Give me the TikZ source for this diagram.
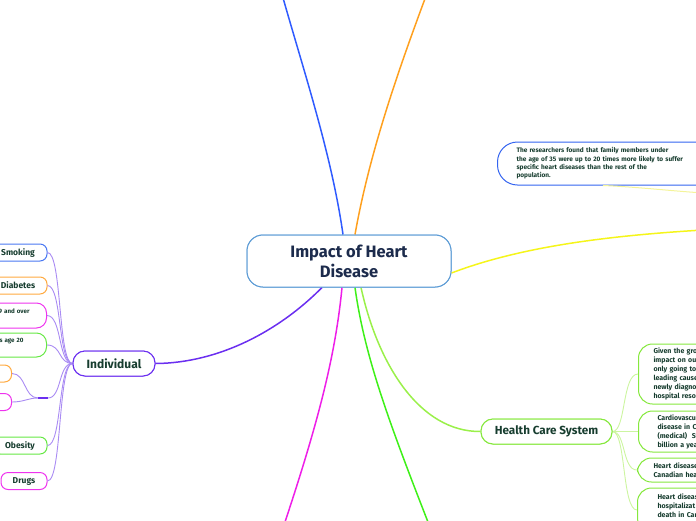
\documentclass[tikz,border=0pt]{standalone}
\usepackage{fontspec}
\setmainfont{Fira Sans}
\definecolor{titletxt}{HTML}{1C2B4C}
\definecolor{txt}{HTML}{173D2F}
\definecolor{rootborder}{HTML}{5B9BD5}
\definecolor{cblue}{HTML}{2F5BFF}
\definecolor{corange}{HTML}{FFA01E}
\definecolor{cyellow}{HTML}{F5F51A}
\definecolor{cpurple}{HTML}{6B2FF0}
\definecolor{cmagenta}{HTML}{EE1EE8}
\definecolor{cgreen}{HTML}{3EF018}
\definecolor{clime}{HTML}{9AF04A}
\definecolor{hcsborder}{HTML}{86E83E}
\definecolor{lpurple}{HTML}{A98BF3}
\definecolor{llime}{HTML}{CCF5A0}
\definecolor{pyellow}{HTML}{F4F49A}
\definecolor{resborder}{HTML}{3464F0}
\definecolor{lblue}{HTML}{4A78F2}
\definecolor{lorange}{HTML}{FFAA40}
\definecolor{lmag}{HTML}{EE33EE}
\definecolor{lgreen}{HTML}{66E844}
\begin{document}
\begin{tikzpicture}[x=1pt,y=-1pt,
  mbox/.style={draw, fill=white, line width=1pt, text=txt, inner sep=0pt, align=center},
  leaf/.style={mbox, rounded corners=7pt, minimum height=17pt, font=\fontsize{8.5}{10}\selectfont\bfseries},
  rbox/.style={mbox, rounded corners=14pt, draw=hcsborder, anchor=west, align=left, text width=110pt,
     font=\fontsize{7}{9}\selectfont\bfseries},
  br/.style={line width=1.5pt},
  sub/.style={line width=0.9pt, lpurple},
  subl/.style={line width=0.9pt, llime}]
\useasboundingbox (0,0) rectangle (696,520);
\clip (0,0) rectangle (696,520);

% nodes
\node[mbox, draw=rootborder, rounded corners=16pt, minimum width=204pt, minimum height=52pt,
  text=titletxt, font=\fontsize{16.5}{20}\selectfont\bfseries] (root) at (349,261) {Impact of Heart\\Disease};

\node[mbox, draw=cpurple, rounded corners=12pt, minimum width=82pt, minimum height=25pt,
  font=\fontsize{12}{14}\selectfont\bfseries] (indiv) at (114,363.5) {Individual};

\node[mbox, draw=hcsborder, rounded corners=12pt, minimum width=131pt, minimum height=25pt,
  font=\fontsize{11.7}{14}\selectfont\bfseries] (hcs) at (546.5,431.5) {Health Care System};

\node[mbox, draw=resborder, rounded corners=20pt, anchor=west, minimum height=43pt, align=left,
  inner xsep=19pt, text width=210pt, font=\fontsize{6.5}{8.3}\selectfont\bfseries] (res) at (497,163.5)
  {The researchers found that family members under\\the age of 35 were up to 20 times more likely to suffer\\specific heart diseases than the rest of the\\population.};

% left leaves
\node[leaf, draw=lblue, minimum width=58pt] (smoking) at (18,252.5) {Smoking};
\node[leaf, draw=lorange, minimum width=58pt] (diab) at (18,285.5) {Diabetes};
\node[mbox, draw=lmag, rounded corners=10pt, anchor=east, minimum height=25pt, inner xsep=17pt,
  text width=60pt, align=right, font=\fontsize{6.2}{8.5}\selectfont\bfseries] (nine) at (47,315.5) {9 and over\\\mbox{}};
\node[mbox, draw=lgreen, rounded corners=10pt, anchor=east, minimum height=24pt, inner xsep=23pt,
  text width=60pt, align=right, font=\fontsize{6.2}{8.5}\selectfont\bfseries] (twenty) at (47,345) {s age 20\\\mbox{}};
\node[leaf, draw=lorange, anchor=east, minimum width=50pt] (sma) at (12,373.5) {};
\node[leaf, draw=lmag, anchor=east, minimum width=50pt] (smb) at (12,402) {};
\node[leaf, draw=lgreen, minimum width=54pt] (obes) at (20,445.5) {Obesity};
\node[leaf, draw=lmag, minimum width=46pt] (drugs) at (24,481) {Drugs};

% right boxes
\node[rbox, minimum height=60pt, inner xsep=15pt] (g1) at (638,374)
  {Given the gro\\impact on ou\\only going to\\leading cause\\newly diagno\\hospital reso};
\node[rbox, minimum height=41pt, inner xsep=19pt] (g2) at (638,431.5)
  {Cardiovascu\\disease in Ca\\(medical)\ \ St\\billion a yea};
\node[rbox, minimum height=24pt, inner xsep=16pt] (g3) at (637,470)
  {Heart disease\\Canadian hea};
\node[rbox, minimum height=44pt, inner xsep=20pt] (g4) at (637,510)
  {Heart diseas\\hospitalizat\\death in Can\\\mbox{}};

% free ends
\coordinate (eblue) at (278,-20);
\coordinate (eorange) at (432,-20);
\coordinate (eyellow) at (720,229);
\coordinate (emag) at (279,540);
\coordinate (egreen) at (435,540);
\coordinate (eres) at (720,194);
\coordinate (jn) at (38,398);
\coordinate (jn2) at (48,398);

% main branches
\draw[br, cblue] ([xshift=-6pt]root.north) .. controls (331,150) and (300,60) .. (eblue);
\draw[br, corange] ([xshift=6pt]root.north) .. controls (370,150) and (400,65) .. (eorange);
\draw[br, cyellow] ([yshift=-12pt]root.east) .. controls (530,243) and (630,234) .. (eyellow);
\draw[br, cmagenta] ([xshift=-7pt]root.south) .. controls (335,360) and (316,430) .. (emag);
\draw[br, cgreen] ([xshift=6pt]root.south) .. controls (365,360) and (392,430) .. (egreen);
\draw[br, clime] ([xshift=12pt]root.south) .. controls (378,365) and (420,432) .. (hcs.west);
\draw[br, cpurple] ([xshift=-27pt]root.south) .. controls (280,330) and (220,363) .. (indiv.east);
\draw[line width=1pt, pyellow] ([xshift=106pt]res.south west) .. controls (640,187) and (680,192) .. (eres);

% individual connectors
\foreach \c in {smoking,diab,nine,twenty,obes,drugs}{
  \draw[sub] (indiv.west) .. controls (58,363.5) and (62,0|-\c.east) .. (\c.east);
}
\draw[sub] (indiv.west) .. controls (58,363.5) and (62,398) .. (jn2);
\draw[line width=1.3pt, cpurple] (jn) -- (jn2);
\draw[sub] (sma.east) .. controls (26,373.5) and (24,398) .. (jn);
\draw[sub] (smb.east) .. controls (24,402) and (28,398) .. (jn);

% health care connectors
\foreach \c in {g1,g2,g3,g4}{
  \draw[subl] (hcs.east) .. controls (626,431.5) and (622,0|-\c.west) .. (\c.west);
}

% redraw nodes on top of branch ends
\node[mbox, draw=rootborder, rounded corners=16pt, minimum width=204pt, minimum height=52pt,
  text=titletxt, font=\fontsize{16.5}{20}\selectfont\bfseries] at (root) {Impact of Heart\\Disease};
\node[mbox, draw=cpurple, rounded corners=12pt, minimum width=82pt, minimum height=25pt,
  font=\fontsize{12}{14}\selectfont\bfseries] at (indiv) {Individual};
\node[mbox, draw=hcsborder, rounded corners=12pt, minimum width=131pt, minimum height=25pt,
  font=\fontsize{11.7}{14}\selectfont\bfseries] at (hcs) {Health Care System};
\end{tikzpicture}
\end{document}
